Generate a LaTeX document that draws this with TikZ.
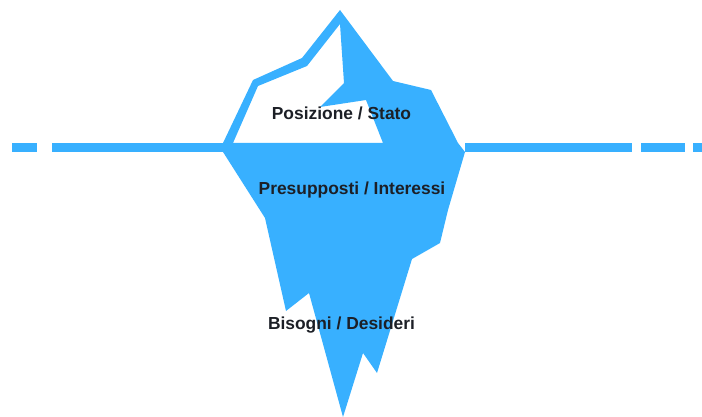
\documentclass[tikz,border=0pt]{standalone}
\usepackage{fontspec}
\setmainfont{Liberation Sans}
\definecolor{iceblue}{HTML}{38B0FF}
\definecolor{labeltext}{HTML}{1C1F26}
\tikzset{
  ice/.style={fill=iceblue,draw=none,even odd rule},
  water/.style={fill=iceblue,draw=none},
  lbl/.style={text=labeltext,font=\bfseries\fontsize{17.4}{20}\selectfont,inner sep=0pt}
}
\begin{document}
\begin{tikzpicture}[x=1pt,y=-1pt]
\useasboundingbox (0,0) rectangle (702,417);
% waterline
\fill[water] (12,143) rectangle (37,152);
\fill[water] (52,143) rectangle (223,152);
\fill[water] (465,143) rectangle (632,152);
\fill[water] (641,143) rectangle (685,152);
\fill[water] (693,143) rectangle (702,152);
% iceberg with white hole
\fill[ice] (340,10) -- (393,81) -- (431,90) -- (458,143) -- (465,152) -- (448,210) -- (440,243) -- (412,259)
  -- (377,373) -- (363,353) -- (343,417) -- (309,293) -- (286,311) -- (265,218) -- (223,152) -- (223,143)
  -- (253,80) -- (302,58) -- cycle
  (233,143) -- (258,86) -- (307,66) -- (340,24) -- (344,83) -- (320,107) -- (366,100) -- (383,143) -- cycle;
% labels
\node[lbl] (pos) at (341.5,113.5) {Posizione / Stato};
\node[lbl] (pre) at (352,190.5) {Presupposti / Interessi};
\node[lbl] (bis) at (341.5,325) {Bisogni / Desideri};
\end{tikzpicture}
\end{document}
